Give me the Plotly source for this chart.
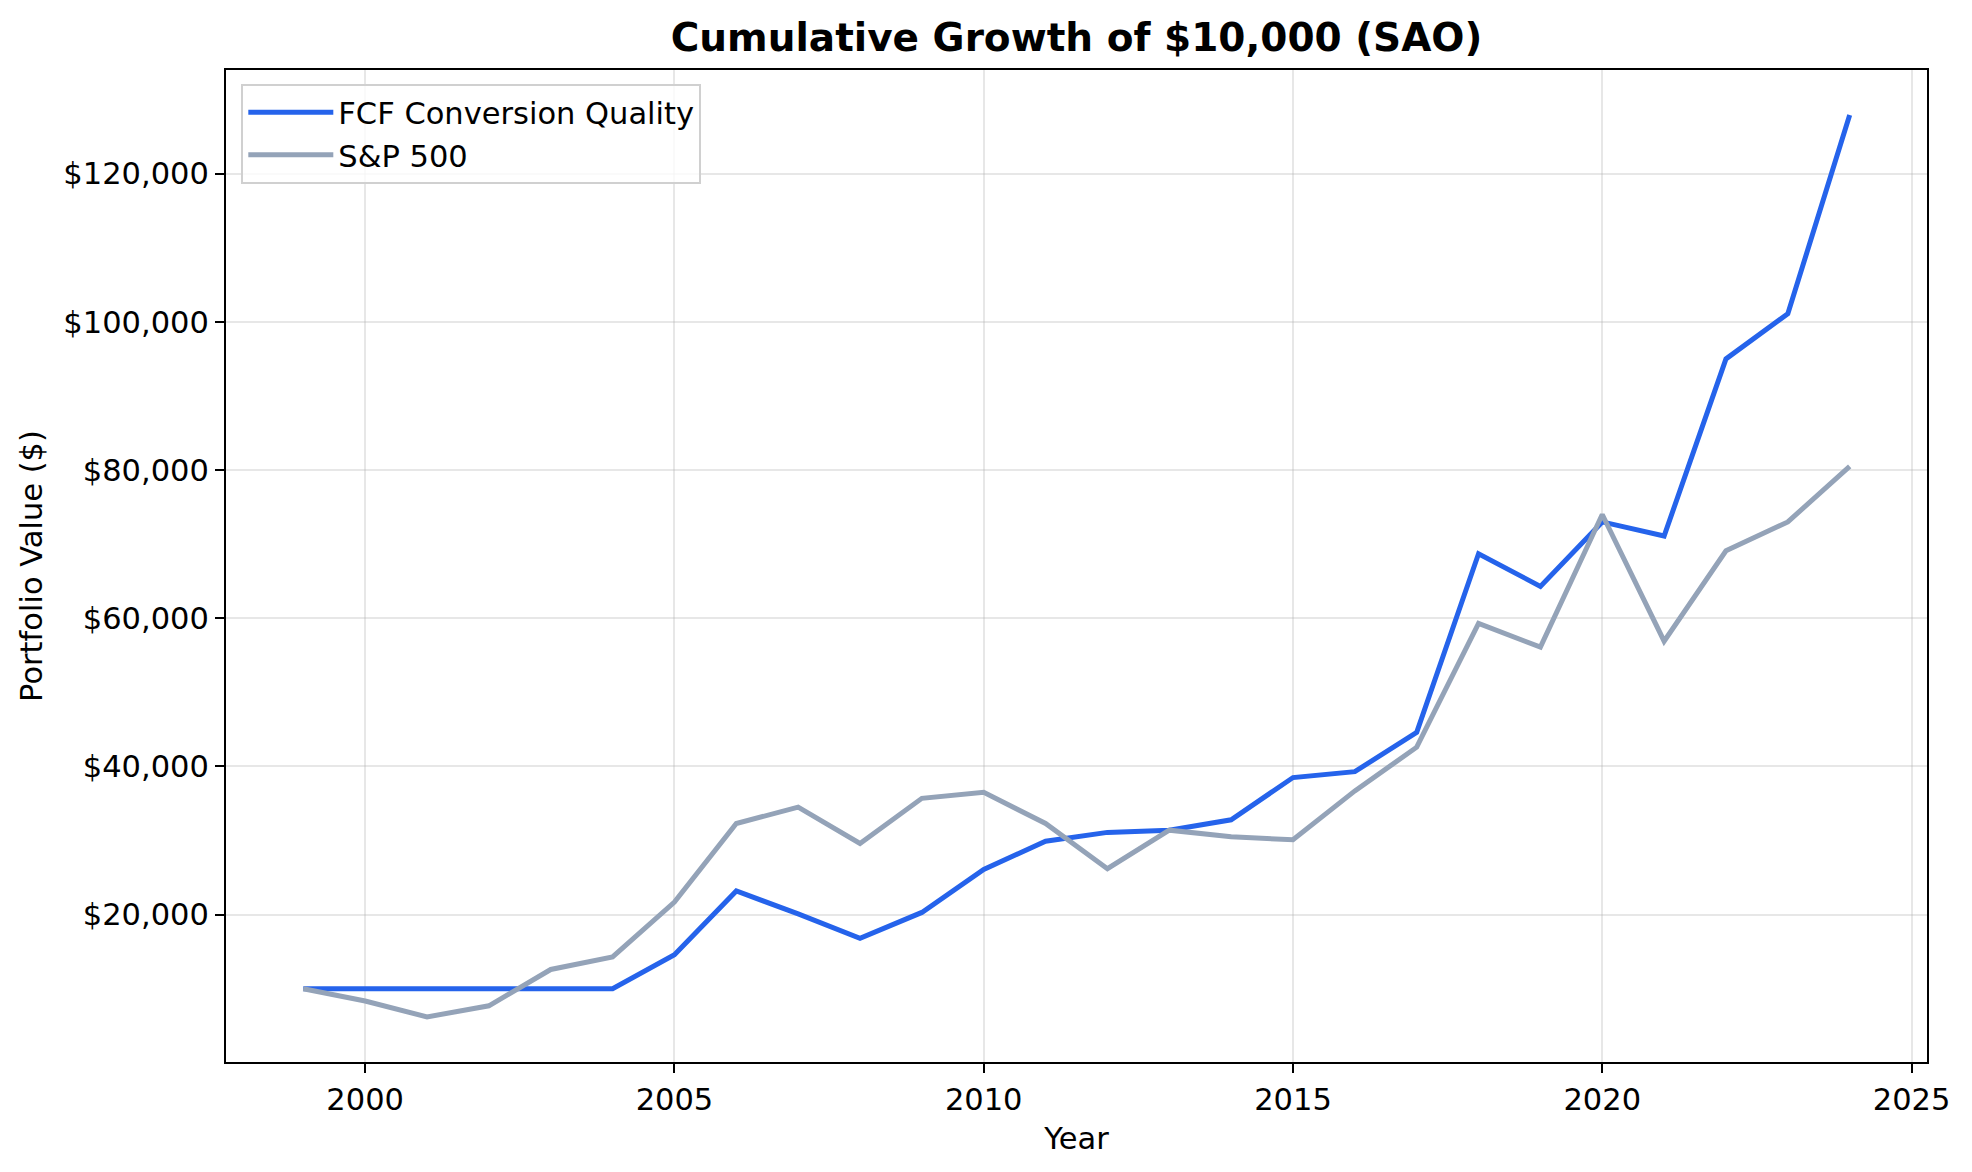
import plotly.graph_objects as go

years = list(range(1999, 2025))
fcf_values = [10000, 10000, 10000, 10000, 10000, 10000, 14600, 23200, 20100, 16800,
              20300, 26100, 29900, 31100, 31400, 32800, 38500, 39300, 44600, 68700,
              64300, 73000, 71100, 95000, 101100, 127900]
sp500_values = [10000, 8350, 6200, 7700, 12600, 14300, 21700, 32300, 34500, 29600,
                35700, 36500, 32300, 26200, 31400, 30500, 30100, 36700, 42600, 59300,
                56100, 74000, 56900, 69100, 73000, 80500]
x_ticks = [2000, 2005, 2010, 2015, 2020, 2025]
y_ticks = [20000, 40000, 60000, 80000, 100000, 120000]

FONT = "DejaVu Sans"
FS = 30.5

L, R, T, B = 218, 53, 62, 118

fig = go.Figure()
fig.add_trace(go.Scatter(x=years, y=fcf_values, mode="lines", name="FCF Conversion Quality",
                         line=dict(color="#2563eb", width=5)))
fig.add_trace(go.Scatter(x=years, y=sp500_values, mode="lines", name="S&P 500",
                         line=dict(color="#94a3b8", width=5)))

axis_common = dict(showline=True, linecolor="black", linewidth=2, mirror=True,
                   ticks="outside", ticklen=9, tickwidth=2, tickcolor="black",
                   showgrid=True, gridcolor="rgba(176,176,176,0.3)", gridwidth=1.5,
                   zeroline=False, tickfont=dict(family=FONT, size=FS, color="black"))

fig.update_layout(
    width=1972, height=1172,
    margin=dict(l=L, r=R, t=T, b=B),
    paper_bgcolor="white", plot_bgcolor="white",
    font=dict(family=FONT, color="black"),
    title=dict(text="<b>Cumulative Growth of $10,000 (SAO)</b>",
               x=(L + (1972 - R)) / 2 / 1972, xanchor="center",
               y=1 - 29 / 1172, yanchor="middle",
               font=dict(family=FONT, size=39, color="black")),
    xaxis=dict(range=[1997.75, 2025.25], tickvals=x_ticks,
               title=dict(text="Year", font=dict(family=FONT, size=FS), standoff=12),
               **axis_common),
    yaxis=dict(range=[115, 133985], tickvals=y_ticks, tickformat="$,.0f",
               title=dict(text="Portfolio Value ($)", font=dict(family=FONT, size=FS), standoff=12),
               **axis_common),
    legend=dict(x=0.009, y=0.986, xanchor="left", yanchor="top",
                bgcolor="rgba(255,255,255,0.8)", bordercolor="#d0d0d0", borderwidth=2,
                itemwidth=85, tracegroupgap=4,
                font=dict(family=FONT, size=FS, color="black")),
    showlegend=True,
)

fig.write_html("out.html")
